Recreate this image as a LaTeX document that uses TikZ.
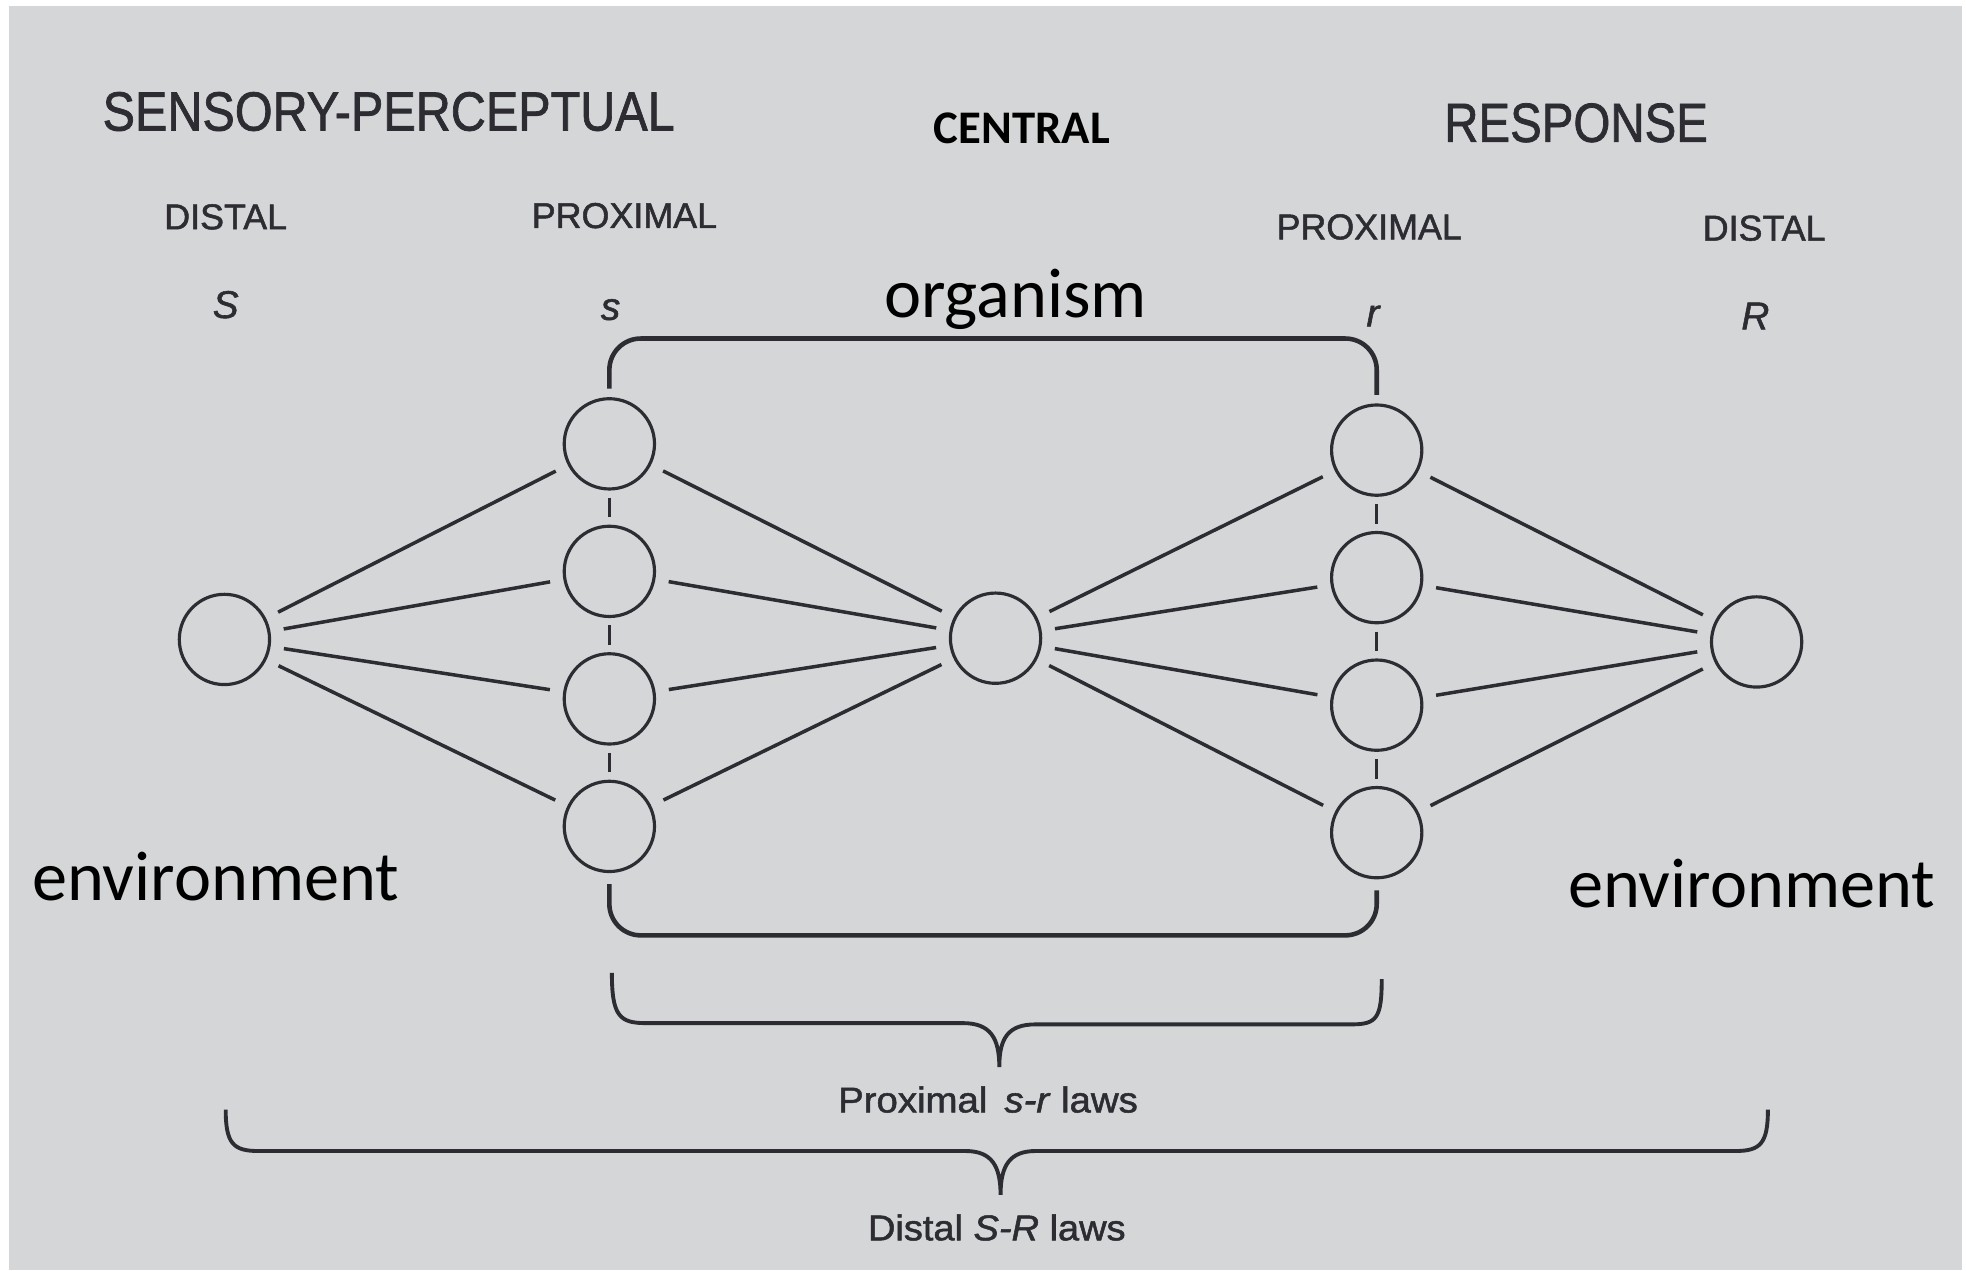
\documentclass[tikz,border=0pt]{standalone}
\usepackage{fontspec}
\usepackage{graphicx}
\setsansfont{Liberation Sans}
\newfontfamily\scanfont[FakeBold=1.4]{Liberation Sans}
\newfontfamily\calibri{Carlito}
\usetikzlibrary{calc,positioning}
\definecolor{paper}{RGB}{213,214,215}
\definecolor{ink}{RGB}{44,44,50}
\newdimen\udim
\newdimen\vdim
\udim=0.12538mm
\vdim=-0.12538mm
\tikzstyle{station}=[
  circle,
  draw=ink,
  line width=0.9pt,
  inner sep=0pt,
  minimum size=72\udim,
  outer sep=0pt,
]
\tikzstyle{link}=[
  draw=ink,
  line width=1pt,
  shorten >=12\udim,
  shorten <=12\udim,
]
\tikzstyle{joint}=[
  draw=ink,
  line width=1pt,
  shorten >=7\udim,
  shorten <=7\udim,
]
\tikzstyle{bracket}=[
  draw=ink,
  line width=1.3pt,
  rounded corners=25\udim,
]
\tikzstyle{curlybrace}=[
  draw=ink,
  line width=1.1pt,
]
\tikzstyle{zonelabel}=[
  font={\scanfont\fontsize{15.7}{18}\selectfont},
  text=ink,
  inner sep=0pt,
]
\tikzstyle{sidelabel}=[
  font={\scanfont\fontsize{10.2}{12}\selectfont},
  text=ink,
  inner sep=0pt,
]
\tikzstyle{symlabel}=[
  font={\scanfont\itshape\fontsize{11}{13}\selectfont},
  text=ink,
  inner sep=0pt,
]
\tikzstyle{wordlabel}=[
  font={\calibri\fontsize{20}{24}\selectfont},
  text=black,
  inner sep=0pt,
]
\tikzset{
  node distance=101.7\udim,
}

\begin{document}
\begin{tikzpicture}[x=\udim, y=\vdim]
      \fill [white] (0,0) rectangle (1568,1013);
      \fill [paper] (7,5) rectangle (1565,1013);
      % headings
      \node [zonelabel] (SENSORY) at (310,89) {\scalebox{0.88}[1]{SENSORY-PERCEPTUAL}};
      \node [wordlabel, font={\calibri\bfseries\fontsize{13.3}{16}\selectfont}] (CENTRAL) at (815,102) {CENTRAL};
      \node [zonelabel] (RESPONSE) at (1257,98) {\scalebox{0.86}[1]{RESPONSE}};
      \node [sidelabel] (DISTALL) at (180,173) {DISTAL};
      \node [sidelabel] (PROXL) at (498,172) {PROXIMAL};
      \node [sidelabel] (PROXR) at (1092,181) {PROXIMAL};
      \node [sidelabel] (DISTALR) at (1407,182) {DISTAL};
      \node [symlabel] (SYMS) at (180,243) {S};
      \node [symlabel] (SYMs) at (487,247) {s};
      \node [symlabel] (SYMr) at (1095,252) {r};
      \node [symlabel] (SYMR) at (1400,252) {R};
      \node [wordlabel, anchor=base] (ORG) at (810,253) {organism};
      \node [wordlabel, anchor=base] (ENVL) at (172,718) {environment};
      \node [wordlabel, anchor=base] (ENVR) at (1397,724) {environment};
      % stations
      \node [station] (S) at (179,510) {};
      \node [station] (s1) at (486,354) {};
      \node [station, below of=s1] (s2) {};
      \node [station, below of=s2] (s3) {};
      \node [station, below of=s3] (s4) {};
      \node [station] (C) at (794,509) {};
      \node [station] (r1) at (1098,359) {};
      \node [station, below of=r1] (r2) {};
      \node [station, below of=r2] (r3) {};
      \node [station, below of=r3] (r4) {};
      \node [station] (R) at (1401,512) {};
      \draw [link] (S) -- (s1);
      \draw [link] (S) -- (s2);
      \draw [link] (S) -- (s3);
      \draw [link] (S) -- (s4);
      \draw [link] (s1) -- (C);
      \draw [link] (s2) -- (C);
      \draw [link] (s3) -- (C);
      \draw [link] (s4) -- (C);
      \draw [link] (C) -- (r1);
      \draw [link] (C) -- (r2);
      \draw [link] (C) -- (r3);
      \draw [link] (C) -- (r4);
      \draw [link] (r1) -- (R);
      \draw [link] (r2) -- (R);
      \draw [link] (r3) -- (R);
      \draw [link] (r4) -- (R);
      \draw [joint] (s1) -- (s2);
      \draw [joint] (s2) -- (s3);
      \draw [joint] (s3) -- (s4);
      \draw [joint] (r1) -- (r2);
      \draw [joint] (r2) -- (r3);
      \draw [joint] (r3) -- (r4);
      % organism bracket
      \coordinate (TOP) at (790,270);
      \coordinate (BOT) at (790,746);
      \draw [bracket] ([yshift=8\udim]s1.north) |- (TOP) -| ([yshift=8\udim]r1.north);
      \draw [bracket] ([yshift=-10\udim]s4.south) |- (BOT) -| ([yshift=-10\udim]r4.south);
      % braces
      \coordinate (PB1) at (488,776);
      \coordinate (PB2) at (1102,781);
      \coordinate (PTIP) at (797,851);
      \draw [curlybrace] (PB1) .. controls (488,810) and (494,816) .. (515,816)
        -- (768,816) .. controls (790,816) and (797,828) .. (PTIP)
        .. controls (797,828) and (804,817) .. (826,817)
        -- (1078,817) .. controls (1098,817) and (1102,812) .. (PB2);
      \node [sidelabel] (PROXLAW) at (788,877) {\scalebox{1.07}[1]{Proximal\, \textit{s-r} laws}};
      \coordinate (DB1) at (180,885);
      \coordinate (DB2) at (1410,885);
      \coordinate (DTIP) at (798,953);
      \draw [curlybrace] (DB1) .. controls (180,912) and (186,918) .. (206,918)
        -- (770,918) .. controls (791,918) and (798,930) .. (DTIP)
        .. controls (798,930) and (805,918) .. (826,918)
        -- (1384,918) .. controls (1404,918) and (1410,912) .. (DB2);
      \node [sidelabel] (DISTLAW) at (795,979) {\scalebox{1.06}[1]{Distal \textit{S-R} laws}};
    \end{tikzpicture}
\end{document}
